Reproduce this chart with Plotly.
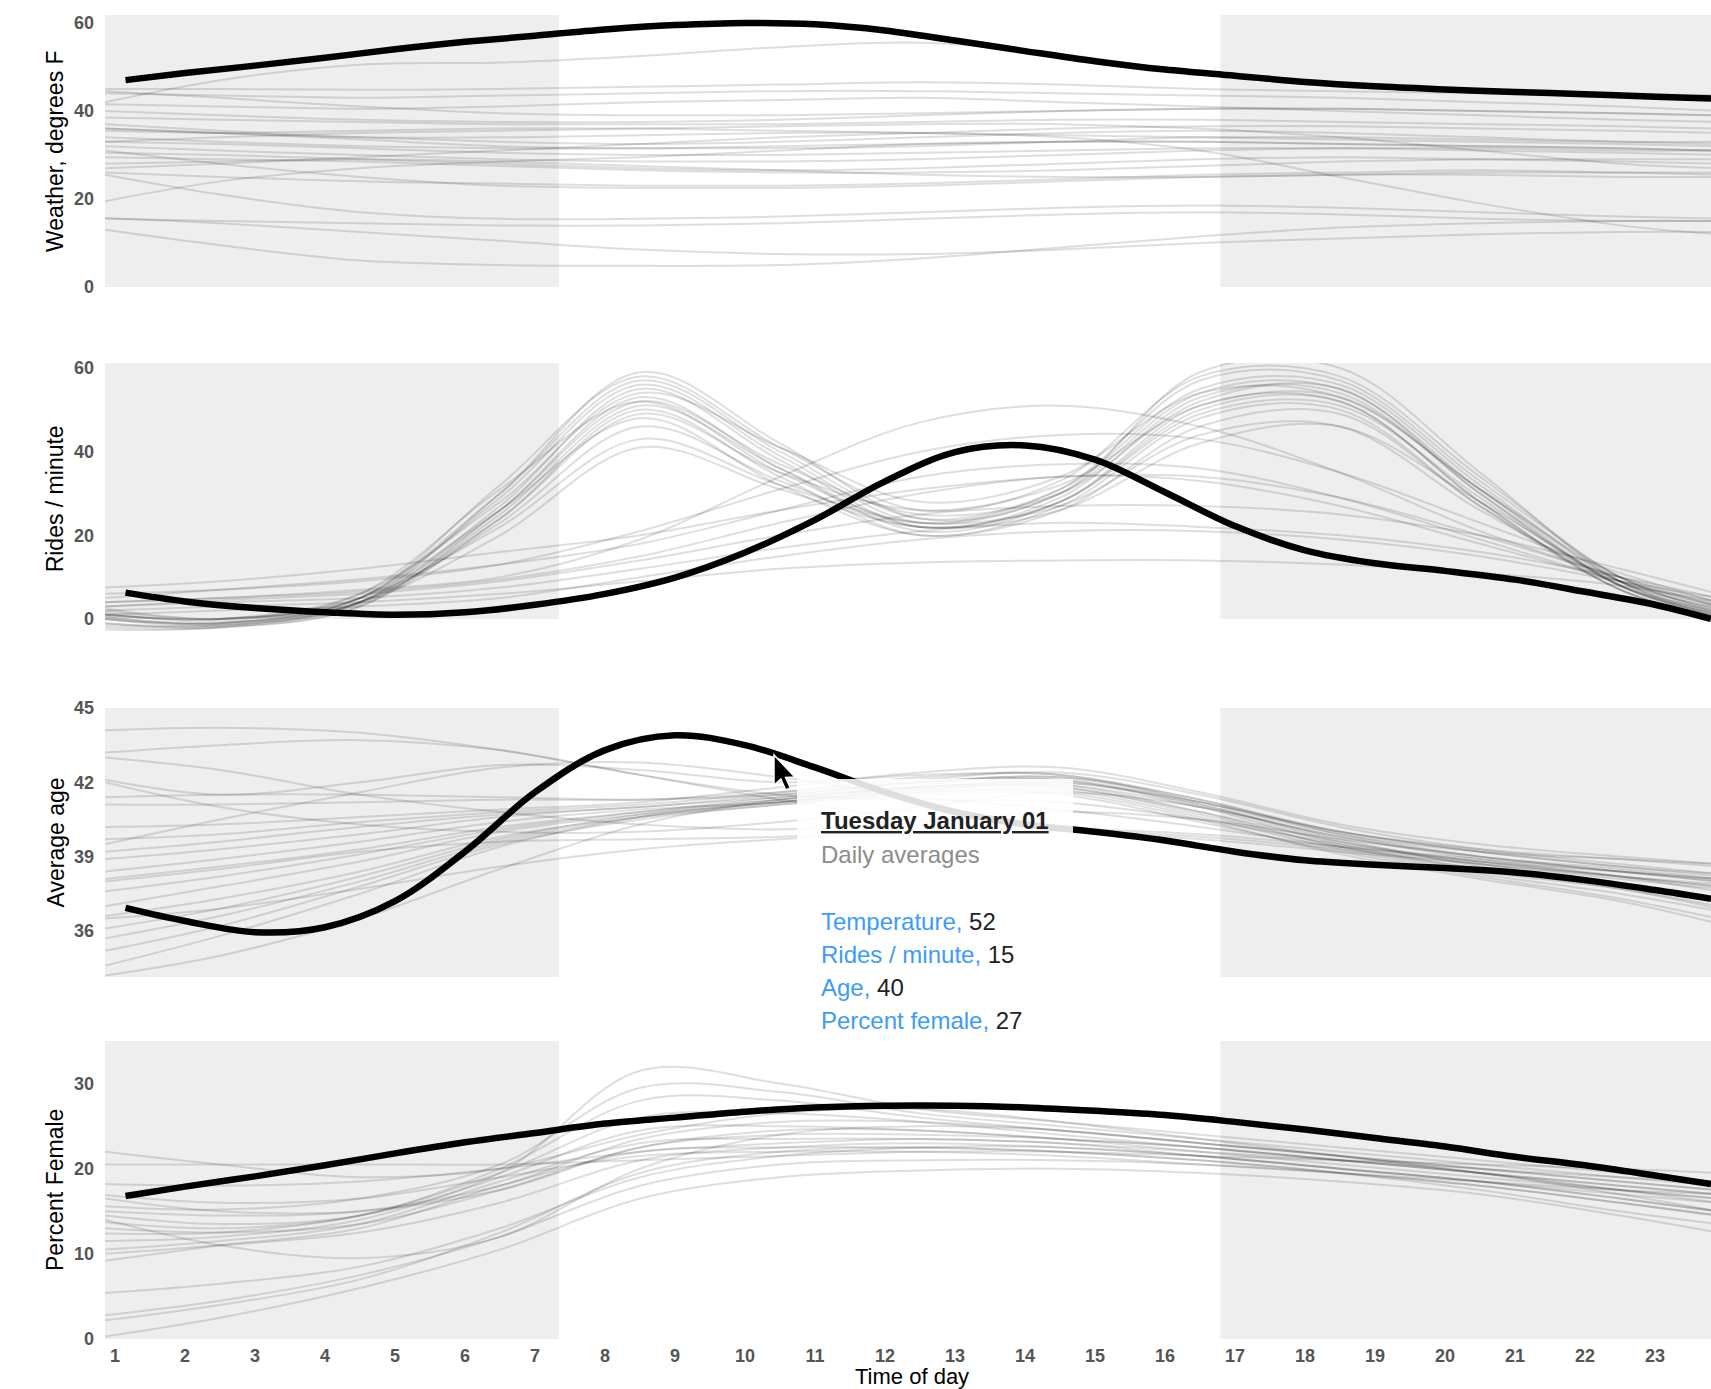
import plotly.graph_objects as go

FIG_W, FIG_H = 1711, 1389
FONT = "Liberation Sans, Arial, Helvetica, sans-serif"

# ---- highlighted day: Tuesday January 01 (hourly readings) ----
day_hours = [1.15, 2, 3, 4, 5, 6, 7, 8, 9, 10, 11, 12, 13, 14, 15, 16, 17,
             18, 19, 20, 21, 22, 23, 23.8]
day_temp = [47, 48.6, 50.3, 52.1, 54, 55.7, 57.1, 58.5, 59.5, 60, 59.7, 58.3,
            56, 53.6, 51.3, 49.4, 48, 46.6, 45.6, 44.9, 44.3, 43.8, 43.2, 42.8]
day_rides = [6.3, 4.2, 2.6, 1.6, 1.0, 1.6, 3.4, 6, 9.9, 15.9, 23.7, 32.9,
             39.9, 41.5, 38.1, 30.3, 22.2, 16.4, 13.3, 11.5, 9.4, 6.5, 3.4, 0]
day_age = [36.93, 36.4, 35.95, 36.15, 37.2, 39.2, 41.6, 43.3, 43.9, 43.5, 42.6,
           41.6, 40.8, 40.3, 40.0, 39.65, 39.2, 38.85, 38.67, 38.54, 38.36,
           38.05, 37.65, 37.3]
day_female = [16.8, 17.9, 19.1, 20.4, 21.8, 23.1, 24.2, 25.3, 26, 26.7, 27.2,
              27.4, 27.4, 27.2, 26.8, 26.3, 25.5, 24.6, 23.6, 22.6, 21.4, 20.4,
              19.2, 18.2]

# ---- the other days of the month, smoothed profiles ----
other_hours = [0.86, 2.5, 4.5, 6.5, 8.5, 10.5, 12.5, 14.5, 16.5, 18.5, 20.5,
               22.5, 23.9]

temp_days = [
    [42, 47, 50.5, 51, 52.5, 54.5, 55.5, 53, 48.5, 45.5, 44.5, 44, 43.5],
    [45, 45, 44.8, 45, 45.5, 46, 46.5, 46, 45, 44.5, 44, 43.5, 43.5],
    [44, 43.5, 43, 43.5, 44, 44.5, 44.5, 44, 43.5, 43, 42, 41, 40],
    [41.5, 41, 40.5, 41, 42, 42.5, 43, 42, 41, 40, 39, 38, 37.5],
    [40, 39, 38, 37.5, 37.5, 38, 39, 40, 40.5, 40.5, 40, 39.5, 39],
    [38.5, 38, 37.5, 37, 37, 37, 37.5, 38, 38, 37.5, 37, 36.5, 36],
    [37, 35.5, 34, 33, 32.5, 33, 34, 35, 35.5, 35, 34, 33, 32.5],
    [35.5, 35, 35.5, 36, 36, 35.5, 35, 34.5, 34, 33.5, 33, 32.5, 32],
    [34, 33, 32, 31.5, 31.5, 32, 32.5, 33, 33, 32.5, 32, 31.5, 31],
    [33, 32.5, 31.5, 30.5, 30, 30, 30.5, 31, 31.5, 31.5, 31, 30.5, 30],
    [32, 31, 30, 29, 28.5, 28.5, 29, 30, 31, 31.5, 31.5, 31, 31],
    [30.5, 30, 29, 28, 27, 26.5, 27, 28, 29, 29.5, 29, 28.5, 28],
    [29.5, 29, 28.5, 27.5, 26.5, 26, 26, 26.5, 27.5, 28.5, 29, 29, 29],
    [28, 28.5, 29, 28.5, 27.5, 26.5, 25.5, 25, 25, 25.5, 26, 26, 26],
    [26, 25, 24, 23.5, 23, 23, 23.5, 24.5, 25.5, 26, 26.5, 26, 25.5],
    [31, 28, 25, 23, 22.5, 22.5, 23, 24, 25, 25.5, 25.5, 25, 25],
    [19.5, 24, 27, 28.5, 29.5, 31, 32.5, 33, 33, 32.5, 32, 31.5, 31],
    [25.5, 21, 17, 15.5, 15.5, 16, 17, 18, 18.5, 18, 17, 16, 15.5],
    [15.5, 15, 14.5, 14, 14, 14.5, 15.5, 16.5, 17, 16.5, 15.5, 15, 15],
    [13, 9.5, 6, 5, 4.8, 5, 6.5, 9, 11.5, 13.5, 14.5, 15, 15],
    [15.7, 14.5, 12.5, 10.5, 8.5, 7.5, 7.5, 8.5, 10, 11, 12, 12.5, 12.5],
    [36, 35, 34, 34, 34.5, 35, 35, 34, 31, 25, 19, 14, 12],
    [33, 34, 35, 35.5, 36, 36.5, 37, 37, 36, 34, 31, 28, 27],
    [27, 28, 29.5, 31, 32.5, 34, 35, 36, 36.5, 36.5, 36, 35.5, 35],
    [44.5, 43, 41, 39.5, 39, 39, 39.5, 40, 40.5, 40.5, 40, 39.5, 39],
    [36, 35, 33.5, 32, 31.5, 31.5, 32, 33, 34, 34, 33.5, 33, 33],
]

rides_days = [
    [0.5, -1.0, 5, 30, 57, 40, 24, 31, 55, 56, 32, 9, 1],
    [0, -1.5, 4, 27, 55, 38, 22, 29, 53, 54, 30, 8, 0.5],
    [-1, -2, 3, 26, 53, 36, 21, 28, 51, 52, 28, 7, 0],
    [1.5, -0.5, 6, 31, 52, 35, 23, 31, 57, 57, 33, 10, 1.5],
    [-2, -2, 3, 24, 50, 34, 20, 27, 48, 50, 27, 7, 0.5],
    [1, 0, 5, 26, 48, 32, 20, 26, 46, 49, 27, 8, 2],
    [2.5, 0, 5, 32, 58, 41, 26, 33, 58, 58, 34, 10, 2],
    [0, -1, 4, 23, 46, 33, 22, 28, 49, 51, 29, 8, 1.5],
    [-1, -1.5, 4, 26, 52, 37, 25, 30, 52, 55, 30, 8, 1],
    [1, 0, 6, 28, 54, 41, 28, 34, 54, 53, 31, 10, 3],
    [2, 0, 5, 22, 43, 32, 23, 27, 44, 46, 26, 9, 2.5],
    [-2.5, -2, 4, 30, 59, 42, 24, 30, 59, 60, 35, 9, 0.5],
    [0.5, -1, 4, 24, 49, 35, 26, 32, 51, 53, 31, 9, 1.5],
    [1, 0, 4, 20, 41, 31, 22, 26, 42, 46, 28, 9, 2.5],
    [-1.5, -1.5, 3.5, 25, 51, 36, 22, 28, 50, 52, 28, 7, 0.5],
    [0, -1, 5, 29, 56, 39, 23, 30, 54, 55, 31, 8, 1],
    [7.5, 9, 12, 16, 20, 26, 31, 34, 34, 29, 20, 10, 4],
    [5, 7, 9.5, 13, 18, 26, 34, 37, 36, 29, 19, 9, 3],
    [4, 5, 6.5, 9.5, 15, 23, 30, 34, 33, 27, 18, 9, 3.5],
    [3, 4, 5, 7.5, 12, 17, 21, 23, 22, 20, 16, 10, 5],
    [2, 3, 4, 6, 9, 12, 13.5, 14, 14, 13, 11, 8, 4],
    [6, 7, 9, 13, 21, 31, 40, 44, 43, 35, 23, 11, 4],
    [4, 5, 7, 10, 19, 34, 47, 51, 46, 35, 21, 10, 3],
    [1, 2, 3, 5, 10, 15, 19, 21, 21, 19, 15, 9, 5],
    [3, 4.5, 6, 9, 14, 20, 25, 27, 27, 25, 20, 12, 6],
]

age_days = [
    [44.1, 44.2, 44, 43.3, 42.3, 41.5, 41.3, 41.2, 40.5, 39.5, 38.8, 38.2, 37.8],
    [43.2, 43.5, 43.7, 43.3, 42.3, 41.3, 40.5, 40.1, 39.8, 39.3, 38.7, 38.1, 37.7],
    [42.1, 41.5, 42, 42.7, 42.5, 42, 42.3, 42.3, 41.3, 40, 39.2, 38.6, 38.2],
    [41.4, 41.5, 41.5, 41.4, 41.3, 41.5, 42, 42.2, 41.3, 39.9, 39, 38.4, 38],
    [41.1, 41.1, 41.2, 41.3, 41.3, 41.6, 42.1, 42.4, 41.5, 40.2, 39.3, 38.7, 38.3],
    [42, 41, 40.3, 40, 40, 40.4, 41, 41.6, 41, 39.8, 39, 38.5, 38.1],
    [40.2, 40.3, 40.6, 40.9, 41.2, 41.8, 42.4, 42.6, 41.6, 40.3, 39.5, 39, 38.7],
    [39.7, 39.9, 40.4, 40.8, 41.1, 41.6, 42.2, 42.3, 41.2, 39.9, 39.2, 38.9, 38.7],
    [39.2, 39.6, 40.2, 40.7, 41, 41.5, 42, 42.2, 41.2, 40, 39.3, 38.9, 38.6],
    [38.9, 39.3, 39.9, 40.6, 41, 41.4, 41.8, 41.8, 40.8, 39.6, 38.8, 38.2, 37.8],
    [38.4, 38.9, 39.6, 40.4, 40.9, 41.2, 41.7, 41.9, 41, 39.8, 38.9, 38.2, 37.6],
    [38.1, 38.6, 39.3, 40.2, 40.8, 41.3, 41.8, 42, 41.1, 39.6, 38.7, 37.9, 37.3],
    [37.6, 38.2, 39.1, 40.1, 40.8, 41.4, 42, 42.1, 41, 39.5, 38.5, 37.8, 37.2],
    [37, 37.8, 38.8, 40, 40.7, 41.2, 41.8, 41.9, 40.8, 39.4, 38.4, 37.7, 37],
    [36.6, 37.3, 38.4, 39.8, 40.6, 41.1, 41.6, 41.7, 40.6, 39.3, 38.3, 37.5, 36.8],
    [36.1, 36.9, 38.2, 39.7, 40.7, 41.3, 41.9, 42.1, 41.1, 39.7, 38.6, 37.8, 37.2],
    [35.7, 36.6, 38, 39.6, 40.6, 41.2, 41.7, 41.8, 40.7, 39.4, 38.5, 37.7, 36.9],
    [35.2, 36.2, 37.8, 39.5, 40.5, 41.1, 41.5, 41.5, 40.4, 39.2, 38.2, 37.3, 36.5],
    [34.6, 35.8, 37.5, 39.4, 40.6, 41.2, 41.6, 41.6, 40.5, 39.1, 38.1, 37.2, 36.3],
    [34.2, 35, 36.5, 38.5, 40.3, 41.3, 41.8, 42, 41.2, 40, 39.2, 38.6, 38.3],
    [36.5, 36.9, 37.7, 38.6, 39.3, 39.7, 39.9, 40, 39.7, 39.2, 38.7, 38.2, 37.9],
    [38, 38.5, 39.2, 39.6, 39.7, 39.8, 40, 40.1, 39.9, 39.4, 38.9, 38.4, 38.1],
    [43, 42.5, 41.5, 40.8, 40.3, 40.1, 40.4, 40.8, 40.5, 39.7, 39, 38.4, 38],
    [39.5, 40.5, 41.6, 42.6, 42.8, 42.2, 41.4, 40.9, 40.2, 39.4, 38.8, 38.4, 38.1],
]

female_days = [
    [22, 20.5, 19, 20, 24, 26.5, 27, 25.5, 23.5, 21.5, 19.5, 17.5, 16.5],
    [15.6, 15.2, 16.5, 20.5, 29.5, 29, 26.5, 25, 23.5, 22, 20.5, 19, 18],
    [14.5, 13.5, 14.5, 19.5, 31.5, 30, 27, 25.5, 24, 22.5, 21, 19.5, 18.5],
    [13.7, 13, 14.5, 20, 28, 28, 26, 24.5, 23, 21.5, 20, 18.5, 17.5],
    [12.4, 12.5, 14.5, 19.5, 26, 26.5, 25.5, 24, 22.5, 21, 19.5, 18, 17],
    [11.5, 12, 14, 19, 24.5, 25, 24.5, 23.5, 22, 20.5, 19, 17.5, 16.5],
    [10.5, 11.5, 13.5, 18.5, 23, 23.5, 23.5, 23, 21.5, 20, 18.5, 16.5, 15],
    [9.2, 11, 13, 18, 22, 22.5, 22.5, 22, 21, 19.5, 18, 16, 14.5],
    [16.9, 16, 16.5, 19, 21.5, 22, 22, 21.5, 20.5, 19.5, 18.5, 17.5, 17],
    [18.2, 18, 18.5, 20, 22, 23, 23.5, 23, 22, 21, 20, 19, 18.5],
    [20.5, 20.5, 20.5, 20.5, 21, 21.5, 22, 22, 21.5, 21, 20.5, 20, 19.5],
    [15, 14.5, 15, 18, 23.5, 25.5, 25.5, 24.5, 23, 21.5, 20, 18.5, 17.5],
    [13, 12.5, 13.5, 17.5, 22.5, 24, 24, 23.5, 22.5, 21, 19.5, 17.5, 16],
    [5.4, 6.5, 8.5, 13, 19, 21.5, 22.5, 22.5, 21.5, 20, 18.5, 16.5, 15],
    [2.8, 4.5, 7.5, 12, 18, 20.5, 21, 21, 20.5, 19.5, 18, 16, 14.5],
    [2.2, 4, 7, 12.5, 19.5, 22, 22.5, 22, 21, 19.5, 17.5, 15, 13.5],
    [0.3, 2.5, 6, 10.5, 16.5, 19, 19.8, 20, 19.5, 18.5, 17, 14.5, 12.5],
    [14, 11, 9.5, 12, 20, 24, 25, 24.5, 23, 21.5, 19.5, 17, 15],
    [10, 11, 12.5, 16, 21, 22.5, 23, 22.5, 21.5, 20, 18.5, 17, 16],
    [16.5, 15, 15, 17.5, 22.5, 24.5, 24.5, 23.5, 22.5, 21, 19.5, 18, 17],
]

hour_ticks = [1, 2, 3, 4, 5, 6, 7, 8, 9, 10, 11, 12, 13, 14, 15, 16, 17, 18,
              19, 20, 21, 22, 23]

# darkness bands (before sunrise / after sunset)
SUNRISE = 7.34
SUNSET = 16.79
X_RANGE = [0.857, 23.8]

tip_date = "Tuesday January 01"
tip_sub = "Daily averages"
tip_labels = ["Temperature,", "Rides / minute,", "Age,", "Percent female,"]
tip_values = [52, 15, 40, 27]

# panel layout in pixels (top, bottom) with the value range they cover
panels = [
    dict(title="Weather, degrees F", days=temp_days, day=day_temp,
         ticks=[0, 20, 40, 60], rng=[0, 61.8], band=[0, 61.8], px=(15, 287)),
    dict(title="Rides / minute", days=rides_days, day=day_rides,
         ticks=[0, 20, 40, 60], rng=[-4, 61.2], band=[0, 61.2], px=(363, 635.7)),
    dict(title="Average age", days=age_days, day=day_age,
         ticks=[36, 39, 42, 45], rng=[34.14, 45], band=[34.14, 45], px=(708, 977)),
    dict(title="Percent Female", days=female_days, day=day_female,
         ticks=[0, 10, 20, 30], rng=[0, 35], band=[0, 35], px=(1041, 1339)),
]

PLOT_LEFT = 105


def px_x(p):
    return p / FIG_W


def px_y(p):
    return 1 - p / FIG_H


fig = go.Figure()
layout = dict(
    width=FIG_W, height=FIG_H,
    margin=dict(l=0, r=0, t=0, b=0, pad=0),
    paper_bgcolor="white", plot_bgcolor="white",
    showlegend=False, hovermode=False,
    font=dict(family=FONT, color="#000"),
)
shapes = []
annotations = []
tick_font = dict(family=FONT, size=18, color="#555", weight="bold")

for i, p in enumerate(panels):
    n = "" if i == 0 else str(i + 1)
    xa, ya = "x" + n, "y" + n
    for d in p["days"]:
        fig.add_trace(go.Scatter(
            x=other_hours, y=d, mode="lines", xaxis=xa, yaxis=ya,
            line=dict(color="rgba(0,0,0,0.13)", width=2, shape="spline",
                      smoothing=1),
            hoverinfo="skip"))
    fig.add_trace(go.Scatter(
        x=day_hours, y=p["day"], mode="lines", xaxis=xa, yaxis=ya,
        line=dict(color="#000", width=6.5, shape="spline", smoothing=1),
        hoverinfo="skip"))

    top, bottom = p["px"]
    layout["xaxis" + n] = dict(
        domain=[px_x(PLOT_LEFT), 1], range=X_RANGE, anchor=ya,
        automargin=False,
        showgrid=False, zeroline=False, showline=False, ticks="",
        tickmode="array", tickvals=hour_ticks,
        ticktext=[str(h) for h in hour_ticks],
        showticklabels=(i == len(panels) - 1),
        tickfont=tick_font, ticklabelstandoff=4)
    layout["yaxis" + n] = dict(
        domain=[px_y(bottom), px_y(top)], range=p["rng"], anchor=xa,
        automargin=False,
        showgrid=False, zeroline=False, showline=False, ticks="",
        tickmode="array", tickvals=p["ticks"],
        tickfont=tick_font, ticklabelstandoff=10)

    for x0, x1 in ((X_RANGE[0], SUNRISE), (SUNSET, X_RANGE[1] + 1)):
        shapes.append(dict(
            type="rect", xref=xa, yref=ya, x0=x0, x1=x1,
            y0=p["band"][0], y1=p["band"][1], layer="below",
            fillcolor="#eeeeee", line=dict(width=0)))

    annotations.append(dict(
        xref="paper", yref="paper", x=px_x(55),
        y=px_y((top + bottom) / 2), text=p["title"], textangle=-90,
        showarrow=False, xanchor="center", yanchor="middle",
        font=dict(family=FONT, size=23, color="#000")))

annotations.append(dict(
    xref="paper", yref="paper", x=px_x(912), y=px_y(1376),
    text="Time of day", showarrow=False, xanchor="center", yanchor="middle",
    font=dict(family=FONT, size=22, color="#000")))

# hover card
shapes.append(dict(
    type="rect", xref="paper", yref="paper",
    x0=px_x(797), x1=px_x(1073), y0=px_y(1040), y1=px_y(779),
    layer="above", fillcolor="rgba(255,255,255,0.87)", line=dict(width=0)))

TIP_X = 819
annotations.append(dict(
    xref="paper", yref="paper", x=px_x(TIP_X), y=px_y(820),
    text="<b><u>" + tip_date + "</u></b>", showarrow=False,
    xanchor="left", yanchor="middle",
    font=dict(family=FONT, size=24, color="#222")))
annotations.append(dict(
    xref="paper", yref="paper", x=px_x(TIP_X), y=px_y(854),
    text=tip_sub, showarrow=False, xanchor="left", yanchor="middle",
    font=dict(family=FONT, size=24, color="#8c8c8c")))
for k, (lab, val) in enumerate(zip(tip_labels, tip_values)):
    annotations.append(dict(
        xref="paper", yref="paper", x=px_x(TIP_X), y=px_y(921 + 33.3 * k),
        text="<span style='color:#3d9bfa'>" + lab + "</span> " + str(val),
        showarrow=False, xanchor="left", yanchor="middle",
        font=dict(family=FONT, size=24, color="#222")))

# mouse pointer
tip = (774, 755)
arrow = [(0, 0), (0, 16), (3.6, 12.6), (6.2, 18.4), (8.6, 17.4), (6.1, 11.8),
         (11, 11.6)]
s = 1.9
pts = [(px_x(tip[0] + s * a), px_y(tip[1] + s * b)) for a, b in arrow]
path = "M " + " L ".join(f"{a:.5f},{b:.5f}" for a, b in pts) + " Z"
shapes.append(dict(type="path", xref="paper", yref="paper", path=path,
                   fillcolor="#000", line=dict(color="#fff", width=1.5),
                   layer="above"))

layout["shapes"] = shapes
layout["annotations"] = annotations
fig.update_layout(**layout)

fig.write_html("out.html")
